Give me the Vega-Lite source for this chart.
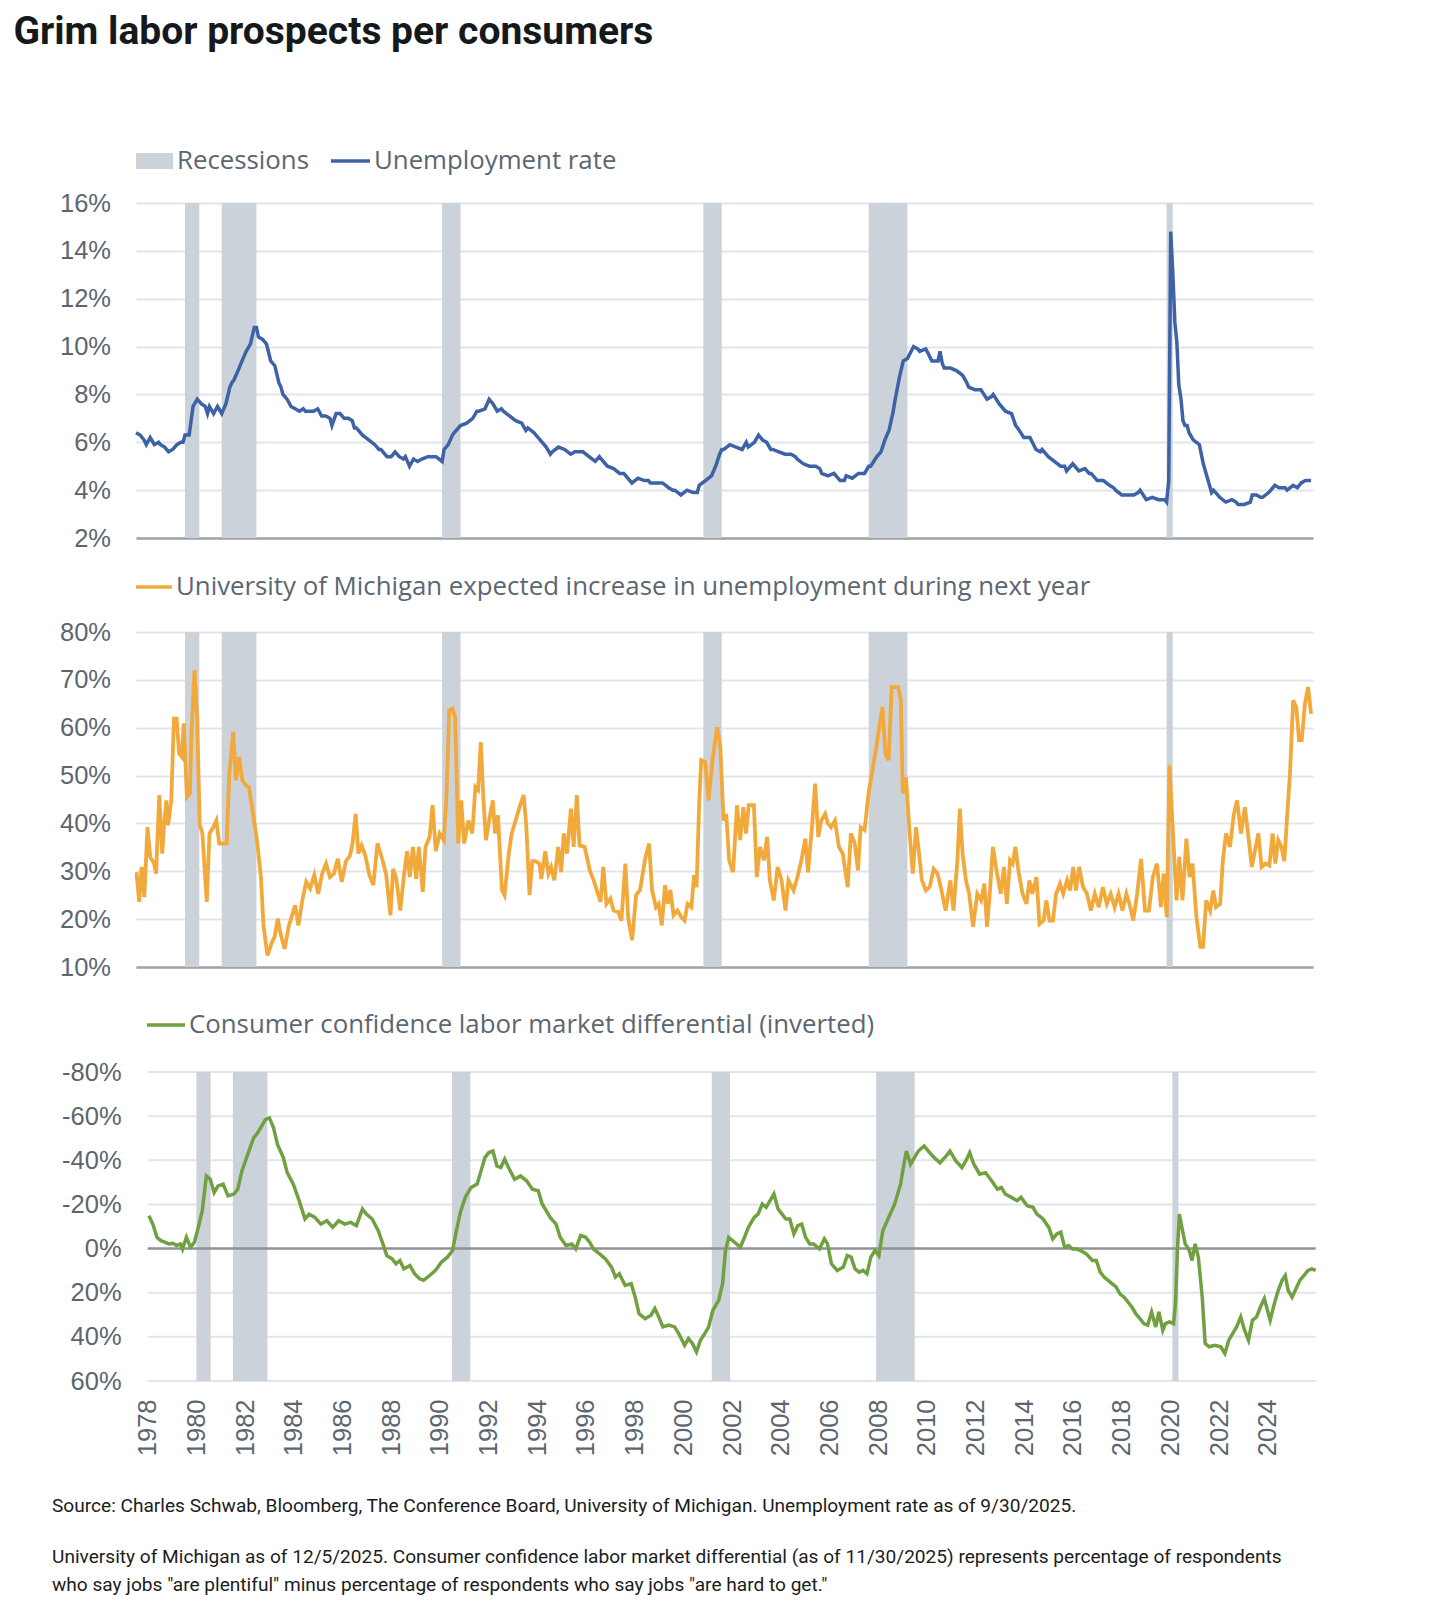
{
"$schema": "https://vega.github.io/schema/vega-lite/v6.json",
"background": "white",
"padding": {"left": 13, "top": 13, "right": 10, "bottom": 10},
"title": {"text": "Grim labor prospects per consumers", "anchor": "start", "frame": "bounds", "font": "Roboto", "fontSize": 39, "fontWeight": "bold", "color": "#16191c", "offset": 99},
"datasets": {
"rec": [{"s":1980.0,"e":1980.583},{"s":1981.5,"e":1982.917},{"s":1990.5,"e":1991.25},{"s":2001.167,"e":2001.917},{"s":2007.917,"e":2009.5},{"s":2020.083,"e":2020.333}],
"grid3": [{"g":-80},{"g":-60},{"g":-40},{"g":-20},{"g":20},{"g":40},{"g":60}],
"ur": [
{"t":1978.0,"v":6.4},{"t":1978.17,"v":6.3},{"t":1978.33,"v":6.1},{"t":1978.42,"v":5.9},{"t":1978.58,"v":6.2},{"t":1978.75,"v":5.9},{"t":1978.92,"v":6.0},
{"t":1979.0,"v":5.9},{"t":1979.17,"v":5.8},{"t":1979.33,"v":5.6},{"t":1979.5,"v":5.7},{"t":1979.67,"v":5.9},{"t":1979.83,"v":6.0},{"t":1979.92,"v":6.0},
{"t":1980.0,"v":6.3},{"t":1980.17,"v":6.3},{"t":1980.25,"v":6.9},{"t":1980.33,"v":7.5},{"t":1980.5,"v":7.8},{"t":1980.67,"v":7.6},{"t":1980.83,"v":7.5},{"t":1980.92,"v":7.2},
{"t":1981.0,"v":7.5},{"t":1981.17,"v":7.2},{"t":1981.33,"v":7.5},{"t":1981.5,"v":7.2},{"t":1981.67,"v":7.6},{"t":1981.83,"v":8.3},{"t":1981.92,"v":8.5},
{"t":1982.0,"v":8.6},{"t":1982.17,"v":9.0},{"t":1982.33,"v":9.4},{"t":1982.5,"v":9.8},{"t":1982.67,"v":10.1},{"t":1982.83,"v":10.8},{"t":1982.92,"v":10.8},
{"t":1983.0,"v":10.4},{"t":1983.17,"v":10.3},{"t":1983.33,"v":10.1},{"t":1983.5,"v":9.4},{"t":1983.67,"v":9.2},{"t":1983.83,"v":8.5},{"t":1983.92,"v":8.3},
{"t":1984.0,"v":8.0},{"t":1984.17,"v":7.8},{"t":1984.33,"v":7.5},{"t":1984.5,"v":7.4},{"t":1984.67,"v":7.3},{"t":1984.83,"v":7.4},{"t":1984.92,"v":7.3},
{"t":1985.0,"v":7.3},{"t":1985.25,"v":7.3},{"t":1985.42,"v":7.4},{"t":1985.58,"v":7.1},{"t":1985.75,"v":7.1},{"t":1985.92,"v":7.0},
{"t":1986.0,"v":6.7},{"t":1986.17,"v":7.2},{"t":1986.33,"v":7.2},{"t":1986.5,"v":7.0},{"t":1986.67,"v":7.0},{"t":1986.83,"v":6.9},{"t":1986.92,"v":6.6},
{"t":1987.0,"v":6.6},{"t":1987.25,"v":6.3},{"t":1987.5,"v":6.1},{"t":1987.75,"v":5.9},{"t":1987.92,"v":5.7},
{"t":1988.0,"v":5.7},{"t":1988.25,"v":5.4},{"t":1988.42,"v":5.4},{"t":1988.58,"v":5.6},{"t":1988.75,"v":5.4},{"t":1988.92,"v":5.3},
{"t":1989.0,"v":5.4},{"t":1989.17,"v":5.0},{"t":1989.33,"v":5.3},{"t":1989.5,"v":5.2},{"t":1989.67,"v":5.3},{"t":1989.92,"v":5.4},
{"t":1990.0,"v":5.4},{"t":1990.25,"v":5.4},{"t":1990.5,"v":5.2},{"t":1990.58,"v":5.7},{"t":1990.75,"v":5.9},{"t":1990.92,"v":6.3},
{"t":1991.0,"v":6.4},{"t":1991.25,"v":6.7},{"t":1991.5,"v":6.8},{"t":1991.75,"v":7.0},{"t":1991.92,"v":7.3},
{"t":1992.0,"v":7.3},{"t":1992.25,"v":7.4},{"t":1992.42,"v":7.8},{"t":1992.58,"v":7.6},{"t":1992.75,"v":7.3},{"t":1992.92,"v":7.4},
{"t":1993.0,"v":7.3},{"t":1993.25,"v":7.1},{"t":1993.5,"v":6.9},{"t":1993.75,"v":6.8},{"t":1993.92,"v":6.5},
{"t":1994.0,"v":6.6},{"t":1994.25,"v":6.4},{"t":1994.5,"v":6.1},{"t":1994.75,"v":5.8},{"t":1994.92,"v":5.5},
{"t":1995.0,"v":5.6},{"t":1995.25,"v":5.8},{"t":1995.5,"v":5.7},{"t":1995.75,"v":5.5},{"t":1995.92,"v":5.6},
{"t":1996.0,"v":5.6},{"t":1996.25,"v":5.6},{"t":1996.5,"v":5.4},{"t":1996.75,"v":5.2},{"t":1996.92,"v":5.4},
{"t":1997.0,"v":5.3},{"t":1997.25,"v":5.0},{"t":1997.5,"v":4.9},{"t":1997.75,"v":4.7},{"t":1997.92,"v":4.7},
{"t":1998.0,"v":4.6},{"t":1998.25,"v":4.3},{"t":1998.5,"v":4.5},{"t":1998.75,"v":4.4},{"t":1998.92,"v":4.4},
{"t":1999.0,"v":4.3},{"t":1999.25,"v":4.3},{"t":1999.5,"v":4.3},{"t":1999.75,"v":4.1},{"t":1999.92,"v":4.0},
{"t":2000.0,"v":4.0},{"t":2000.25,"v":3.8},{"t":2000.5,"v":4.0},{"t":2000.75,"v":3.9},{"t":2000.92,"v":3.9},
{"t":2001.0,"v":4.2},{"t":2001.25,"v":4.4},{"t":2001.5,"v":4.6},{"t":2001.67,"v":5.0},{"t":2001.83,"v":5.5},{"t":2001.92,"v":5.7},
{"t":2002.0,"v":5.7},{"t":2002.25,"v":5.9},{"t":2002.5,"v":5.8},{"t":2002.75,"v":5.7},{"t":2002.92,"v":6.0},
{"t":2003.0,"v":5.8},{"t":2003.25,"v":6.0},{"t":2003.42,"v":6.3},{"t":2003.58,"v":6.1},{"t":2003.75,"v":6.0},{"t":2003.92,"v":5.7},
{"t":2004.0,"v":5.7},{"t":2004.25,"v":5.6},{"t":2004.5,"v":5.5},{"t":2004.75,"v":5.5},{"t":2004.92,"v":5.4},
{"t":2005.0,"v":5.3},{"t":2005.25,"v":5.1},{"t":2005.5,"v":5.0},{"t":2005.75,"v":5.0},{"t":2005.92,"v":4.9},
{"t":2006.0,"v":4.7},{"t":2006.25,"v":4.6},{"t":2006.5,"v":4.7},{"t":2006.75,"v":4.4},{"t":2006.92,"v":4.4},
{"t":2007.0,"v":4.6},{"t":2007.25,"v":4.5},{"t":2007.5,"v":4.7},{"t":2007.75,"v":4.7},{"t":2007.92,"v":5.0},
{"t":2008.0,"v":5.0},{"t":2008.25,"v":5.4},{"t":2008.42,"v":5.6},{"t":2008.58,"v":6.1},{"t":2008.75,"v":6.5},{"t":2008.92,"v":7.3},
{"t":2009.0,"v":7.8},{"t":2009.17,"v":8.7},{"t":2009.33,"v":9.4},{"t":2009.5,"v":9.5},{"t":2009.75,"v":10.0},{"t":2009.92,"v":9.9},
{"t":2010.0,"v":9.8},{"t":2010.25,"v":9.9},{"t":2010.5,"v":9.4},{"t":2010.75,"v":9.4},{"t":2010.83,"v":9.8},{"t":2010.92,"v":9.3},
{"t":2011.0,"v":9.1},{"t":2011.25,"v":9.1},{"t":2011.5,"v":9.0},{"t":2011.75,"v":8.8},{"t":2011.92,"v":8.5},
{"t":2012.0,"v":8.3},{"t":2012.25,"v":8.2},{"t":2012.5,"v":8.2},{"t":2012.75,"v":7.8},{"t":2012.92,"v":7.9},
{"t":2013.0,"v":8.0},{"t":2013.25,"v":7.6},{"t":2013.5,"v":7.3},{"t":2013.75,"v":7.2},{"t":2013.92,"v":6.7},
{"t":2014.0,"v":6.6},{"t":2014.25,"v":6.2},{"t":2014.5,"v":6.2},{"t":2014.75,"v":5.7},{"t":2014.92,"v":5.6},
{"t":2015.0,"v":5.7},{"t":2015.25,"v":5.4},{"t":2015.5,"v":5.2},{"t":2015.75,"v":5.0},{"t":2015.92,"v":5.0},
{"t":2016.0,"v":4.8},{"t":2016.25,"v":5.1},{"t":2016.5,"v":4.8},{"t":2016.75,"v":4.9},{"t":2016.92,"v":4.7},
{"t":2017.0,"v":4.7},{"t":2017.25,"v":4.4},{"t":2017.5,"v":4.4},{"t":2017.75,"v":4.2},{"t":2017.92,"v":4.1},
{"t":2018.0,"v":4.0},{"t":2018.25,"v":3.8},{"t":2018.5,"v":3.8},{"t":2018.75,"v":3.8},{"t":2018.92,"v":3.9},
{"t":2019.0,"v":4.0},{"t":2019.25,"v":3.6},{"t":2019.5,"v":3.7},{"t":2019.75,"v":3.6},{"t":2019.92,"v":3.6},
{"t":2020.0,"v":3.6},{"t":2020.08,"v":3.5},{"t":2020.17,"v":4.4},{"t":2020.25,"v":14.8},{"t":2020.33,"v":13.2},{"t":2020.42,"v":11.0},{"t":2020.5,"v":10.2},{"t":2020.58,"v":8.4},{"t":2020.67,"v":7.8},{"t":2020.75,"v":6.9},{"t":2020.83,"v":6.7},{"t":2020.92,"v":6.7},
{"t":2021.0,"v":6.4},{"t":2021.17,"v":6.1},{"t":2021.42,"v":5.9},{"t":2021.58,"v":5.1},{"t":2021.75,"v":4.5},{"t":2021.92,"v":3.9},
{"t":2022.0,"v":4.0},{"t":2022.25,"v":3.7},{"t":2022.5,"v":3.5},{"t":2022.75,"v":3.6},{"t":2022.92,"v":3.5},
{"t":2023.0,"v":3.4},{"t":2023.25,"v":3.4},{"t":2023.5,"v":3.5},{"t":2023.58,"v":3.8},{"t":2023.75,"v":3.8},{"t":2023.92,"v":3.7},
{"t":2024.0,"v":3.7},{"t":2024.25,"v":3.9},{"t":2024.42,"v":4.1},{"t":2024.5,"v":4.2},{"t":2024.67,"v":4.1},{"t":2024.92,"v":4.1},
{"t":2025.0,"v":4.0},{"t":2025.25,"v":4.2},{"t":2025.42,"v":4.1},{"t":2025.58,"v":4.3},{"t":2025.75,"v":4.4},{"t":2025.98,"v":4.4}
],
"um": [
{"t":1978.02,"v":29.8},{"t":1978.13,"v":23.6},{"t":1978.23,"v":30.9},{"t":1978.34,"v":24.6},{"t":1978.47,"v":39.2},{"t":1978.58,"v":33},{"t":1978.74,"v":31.6},{"t":1978.82,"v":29.5},{"t":1978.95,"v":45.9},
{"t":1979.07,"v":33.7},{"t":1979.15,"v":39.9},{"t":1979.24,"v":44.8},{"t":1979.31,"v":39.6},{"t":1979.44,"v":44.8},{"t":1979.55,"v":61.9},{"t":1979.66,"v":61.9},{"t":1979.76,"v":54.6},{"t":1979.87,"v":53.9},{"t":1979.95,"v":60.9},
{"t":1980.08,"v":45.5},{"t":1980.2,"v":46.2},{"t":1980.27,"v":59.5},{"t":1980.39,"v":72},{"t":1980.5,"v":61.5},{"t":1980.6,"v":39.9},{"t":1980.71,"v":37.9},{"t":1980.89,"v":23.6},
{"t":1981.0,"v":37.9},{"t":1981.16,"v":39.2},{"t":1981.28,"v":40.6},{"t":1981.4,"v":35.8},{"t":1981.7,"v":35.8},{"t":1981.81,"v":50.4},{"t":1981.97,"v":59.1},
{"t":1982.08,"v":49},{"t":1982.21,"v":53.9},{"t":1982.34,"v":49},{"t":1982.5,"v":47.9},{"t":1982.61,"v":47.6},{"t":1982.78,"v":42},{"t":1982.94,"v":36.5},
{"t":1983.1,"v":28.8},{"t":1983.21,"v":18.4},{"t":1983.37,"v":12.4},{"t":1983.53,"v":14.9},{"t":1983.66,"v":16.3},{"t":1983.79,"v":20.1},{"t":1983.9,"v":17},
{"t":1984.07,"v":13.8},{"t":1984.23,"v":18.4},{"t":1984.39,"v":21.1},{"t":1984.5,"v":22.9},{"t":1984.63,"v":18.7},{"t":1984.79,"v":23.9},{"t":1984.95,"v":27.8},
{"t":1985.11,"v":26.4},{"t":1985.28,"v":29.2},{"t":1985.44,"v":25.3},{"t":1985.6,"v":29.5},{"t":1985.76,"v":31.6},{"t":1985.92,"v":28.8},
{"t":1986.08,"v":29.5},{"t":1986.24,"v":32.6},{"t":1986.4,"v":27.8},{"t":1986.57,"v":32.1},{"t":1986.73,"v":33.2},{"t":1986.84,"v":35.7},{"t":1986.97,"v":42},
{"t":1987.08,"v":33.7},{"t":1987.21,"v":35.4},{"t":1987.37,"v":33.2},{"t":1987.53,"v":29.2},{"t":1987.69,"v":27.1},{"t":1987.86,"v":35.8},
{"t":1988.05,"v":32.6},{"t":1988.21,"v":29.5},{"t":1988.39,"v":20.8},{"t":1988.5,"v":30.5},{"t":1988.63,"v":28.4},{"t":1988.79,"v":21.8},{"t":1988.95,"v":29.5},
{"t":1989.07,"v":34.2},{"t":1989.18,"v":28.8},{"t":1989.31,"v":35.1},{"t":1989.44,"v":28.4},{"t":1989.55,"v":35.1},{"t":1989.71,"v":25.7},{"t":1989.82,"v":35.1},{"t":1989.99,"v":37.2},
{"t":1990.11,"v":43.8},{"t":1990.24,"v":34.2},{"t":1990.4,"v":37.9},{"t":1990.57,"v":36.5},{"t":1990.68,"v":45.9},{"t":1990.79,"v":63.6},{"t":1990.92,"v":64},
{"t":1991.03,"v":62.2},{"t":1991.16,"v":35.8},{"t":1991.28,"v":44.8},{"t":1991.4,"v":35.8},{"t":1991.57,"v":40.6},{"t":1991.73,"v":37.9},{"t":1991.86,"v":47.6},{"t":1991.97,"v":47},
{"t":1992.08,"v":57},{"t":1992.18,"v":45.5},{"t":1992.29,"v":36.5},{"t":1992.45,"v":41.5},{"t":1992.57,"v":44.8},{"t":1992.66,"v":37.9},{"t":1992.78,"v":41.7},{"t":1992.94,"v":26.1},
{"t":1993.05,"v":25},{"t":1993.21,"v":33.2},{"t":1993.34,"v":37.9},{"t":1993.5,"v":40.6},{"t":1993.66,"v":43.4},{"t":1993.83,"v":45.9},{"t":1993.94,"v":39.2},
{"t":1994.07,"v":25},{"t":1994.18,"v":32.1},{"t":1994.31,"v":32.1},{"t":1994.47,"v":31.6},{"t":1994.55,"v":28.4},{"t":1994.71,"v":34.2},{"t":1994.84,"v":29.5},{"t":1994.95,"v":30.9},
{"t":1995.08,"v":28.1},{"t":1995.24,"v":35.1},{"t":1995.36,"v":29.8},{"t":1995.47,"v":37.9},{"t":1995.6,"v":33.7},{"t":1995.76,"v":43.1},{"t":1995.87,"v":35.1},
{"t":1996.0,"v":45.9},{"t":1996.11,"v":35.4},{"t":1996.32,"v":35.1},{"t":1996.53,"v":30.2},{"t":1996.69,"v":28.1},{"t":1996.86,"v":25.3},{"t":1996.97,"v":23.6},
{"t":1997.08,"v":30.9},{"t":1997.21,"v":23.2},{"t":1997.37,"v":24.3},{"t":1997.5,"v":21.8},{"t":1997.69,"v":21.5},{"t":1997.82,"v":19.7},{"t":1997.98,"v":31.6},
{"t":1998.1,"v":20.1},{"t":1998.26,"v":15.6},{"t":1998.42,"v":25},{"t":1998.58,"v":26.1},{"t":1998.79,"v":32.6},{"t":1998.95,"v":35.8},
{"t":1999.07,"v":26.1},{"t":1999.23,"v":22.5},{"t":1999.34,"v":23.2},{"t":1999.47,"v":18.7},{"t":1999.6,"v":27.1},{"t":1999.71,"v":23.2},{"t":1999.82,"v":26.1},{"t":1999.95,"v":20.8},
{"t":2000.11,"v":21.8},{"t":2000.27,"v":20.4},{"t":2000.4,"v":19.7},{"t":2000.52,"v":23.2},{"t":2000.68,"v":22.5},{"t":2000.79,"v":29.2},{"t":2000.89,"v":26.7},
{"t":2001.0,"v":44.8},{"t":2001.08,"v":53.2},{"t":2001.24,"v":52.8},{"t":2001.38,"v":44.8},{"t":2001.54,"v":53.2},{"t":2001.73,"v":60.1},{"t":2001.86,"v":56},{"t":2001.99,"v":40.6},
{"t":2002.1,"v":42},{"t":2002.22,"v":32.3},{"t":2002.38,"v":29.8},{"t":2002.54,"v":43.8},{"t":2002.67,"v":36.5},{"t":2002.8,"v":43.4},{"t":2002.91,"v":37.9},
{"t":2003.02,"v":43.8},{"t":2003.23,"v":43.8},{"t":2003.35,"v":28.8},{"t":2003.48,"v":35.1},{"t":2003.64,"v":32.3},{"t":2003.77,"v":37.2},{"t":2003.88,"v":28.1},
{"t":2004.04,"v":23.9},{"t":2004.2,"v":30.9},{"t":2004.36,"v":28.1},{"t":2004.52,"v":21.8},{"t":2004.64,"v":28.1},{"t":2004.85,"v":26},
{"t":2005.01,"v":28.8},{"t":2005.17,"v":32.3},{"t":2005.33,"v":36.8},{"t":2005.44,"v":29.8},{"t":2005.6,"v":39.2},{"t":2005.73,"v":48.3},{"t":2005.86,"v":37.2},{"t":2005.98,"v":40.6},
{"t":2006.14,"v":42},{"t":2006.25,"v":40},{"t":2006.38,"v":39.2},{"t":2006.54,"v":40.6},{"t":2006.7,"v":35.1},{"t":2006.86,"v":33.7},
{"t":2007.06,"v":26.7},{"t":2007.19,"v":37.9},{"t":2007.35,"v":35.8},{"t":2007.48,"v":30.2},{"t":2007.59,"v":39.2},{"t":2007.75,"v":38.6},{"t":2007.91,"v":46.2},
{"t":2008.07,"v":51.1},{"t":2008.23,"v":56},{"t":2008.35,"v":60.1},{"t":2008.48,"v":64.3},{"t":2008.6,"v":54.6},{"t":2008.73,"v":53.2},{"t":2008.86,"v":68.5},{"t":2008.99,"v":68.5},
{"t":2009.12,"v":68.5},{"t":2009.23,"v":65.7},{"t":2009.31,"v":46.2},{"t":2009.44,"v":49.7},{"t":2009.6,"v":37.2},{"t":2009.72,"v":29.5},{"t":2009.85,"v":39.2},{"t":2009.96,"v":34.4},
{"t":2010.09,"v":28.1},{"t":2010.25,"v":26},{"t":2010.41,"v":26.7},{"t":2010.57,"v":30.5},{"t":2010.73,"v":29.5},{"t":2010.89,"v":26},
{"t":2011.06,"v":21.8},{"t":2011.25,"v":28.1},{"t":2011.38,"v":21.8},{"t":2011.54,"v":32.3},{"t":2011.64,"v":43.1},{"t":2011.75,"v":33.7},{"t":2011.89,"v":28.1},
{"t":2012.02,"v":25.3},{"t":2012.18,"v":18.4},{"t":2012.35,"v":25.3},{"t":2012.51,"v":23.9},{"t":2012.64,"v":27.4},{"t":2012.75,"v":18.4},{"t":2012.86,"v":25.3},{"t":2012.99,"v":35.1},
{"t":2013.15,"v":29.8},{"t":2013.31,"v":25.3},{"t":2013.44,"v":30.9},{"t":2013.56,"v":23.2},{"t":2013.69,"v":32.3},{"t":2013.8,"v":31.6},{"t":2013.91,"v":35.1},
{"t":2014.04,"v":29.8},{"t":2014.2,"v":25.3},{"t":2014.36,"v":23.2},{"t":2014.48,"v":28.1},{"t":2014.6,"v":25.3},{"t":2014.77,"v":28.8},{"t":2014.89,"v":19},
{"t":2015.06,"v":19.7},{"t":2015.17,"v":23.9},{"t":2015.3,"v":19.7},{"t":2015.44,"v":19.7},{"t":2015.57,"v":25.3},{"t":2015.73,"v":27.4},{"t":2015.86,"v":25.3},
{"t":2016.02,"v":28.1},{"t":2016.14,"v":26},{"t":2016.27,"v":30.9},{"t":2016.38,"v":26},{"t":2016.51,"v":30.9},{"t":2016.67,"v":26.7},{"t":2016.83,"v":25.3},{"t":2016.99,"v":21.8},
{"t":2017.15,"v":25.3},{"t":2017.31,"v":22.5},{"t":2017.48,"v":26.7},{"t":2017.64,"v":23.2},{"t":2017.8,"v":25.3},{"t":2017.96,"v":22.5},
{"t":2018.12,"v":25.3},{"t":2018.28,"v":21.8},{"t":2018.44,"v":25.3},{"t":2018.6,"v":22.5},{"t":2018.72,"v":19.7},{"t":2018.88,"v":25.3},
{"t":2019.04,"v":32.6},{"t":2019.2,"v":21.8},{"t":2019.36,"v":21.8},{"t":2019.52,"v":28.8},{"t":2019.69,"v":31.6},{"t":2019.85,"v":22.5},{"t":2019.96,"v":29.5},
{"t":2020.09,"v":20.4},{"t":2020.2,"v":52.1},{"t":2020.33,"v":39.2},{"t":2020.49,"v":23.9},{"t":2020.6,"v":33},{"t":2020.73,"v":23.9},{"t":2020.89,"v":36.8},
{"t":2021.02,"v":28.8},{"t":2021.14,"v":31.6},{"t":2021.3,"v":20.4},{"t":2021.46,"v":14.2},{"t":2021.57,"v":14.2},{"t":2021.7,"v":23.9},{"t":2021.86,"v":21.8},{"t":2021.99,"v":26},
{"t":2022.1,"v":22.5},{"t":2022.27,"v":23.2},{"t":2022.38,"v":32.3},{"t":2022.51,"v":37.9},{"t":2022.67,"v":35.1},{"t":2022.83,"v":42},{"t":2022.96,"v":44.8},
{"t":2023.12,"v":37.9},{"t":2023.28,"v":43.4},{"t":2023.44,"v":36.5},{"t":2023.56,"v":30.9},{"t":2023.72,"v":35.1},{"t":2023.83,"v":37.9},{"t":2023.96,"v":30.9},
{"t":2024.12,"v":31.6},{"t":2024.28,"v":31.2},{"t":2024.41,"v":37.9},{"t":2024.52,"v":31.6},{"t":2024.64,"v":36.5},{"t":2024.77,"v":35.1},{"t":2024.89,"v":32.1},
{"t":2025.01,"v":42},{"t":2025.12,"v":50.4},{"t":2025.25,"v":65.7},{"t":2025.38,"v":64.3},{"t":2025.49,"v":57.4},{"t":2025.6,"v":57.4},{"t":2025.73,"v":65},{"t":2025.86,"v":68.5},{"t":2025.98,"v":62.9}
],
"cc": [
{"t":1978.05,"v":-14.9},{"t":1978.21,"v":-11.1},{"t":1978.38,"v":-5.1},{"t":1978.54,"v":-3.6},{"t":1978.7,"v":-2.9},{"t":1978.86,"v":-2.1},
{"t":1979.03,"v":-2.4},{"t":1979.19,"v":-1.4},{"t":1979.35,"v":-2.1},{"t":1979.43,"v":0.2},{"t":1979.59,"v":-5.1},{"t":1979.76,"v":-0.6},{"t":1979.92,"v":-2.9},
{"t":1980.08,"v":-9.6},{"t":1980.24,"v":-17.1},{"t":1980.41,"v":-32.9},{"t":1980.57,"v":-31.4},{"t":1980.73,"v":-25.4},{"t":1980.89,"v":-28.4},
{"t":1981.1,"v":-29.2},{"t":1981.3,"v":-23.9},{"t":1981.54,"v":-24.7},{"t":1981.7,"v":-26.9},{"t":1981.87,"v":-35.2},
{"t":1982.11,"v":-42.7},{"t":1982.35,"v":-50.2},{"t":1982.52,"v":-52.5},{"t":1982.68,"v":-55.5},{"t":1982.84,"v":-58.5},
{"t":1983.0,"v":-59.2},{"t":1983.17,"v":-54.7},{"t":1983.33,"v":-47.2},{"t":1983.57,"v":-41.2},{"t":1983.73,"v":-34.4},{"t":1983.98,"v":-29.2},
{"t":1984.22,"v":-21.7},{"t":1984.46,"v":-13.4},{"t":1984.63,"v":-15.6},{"t":1984.87,"v":-14.1},
{"t":1985.11,"v":-11.1},{"t":1985.36,"v":-12.6},{"t":1985.6,"v":-9.6},{"t":1985.84,"v":-12.6},
{"t":1986.09,"v":-11.1},{"t":1986.33,"v":-11.9},{"t":1986.57,"v":-10.4},{"t":1986.82,"v":-17.9},{"t":1986.98,"v":-15.6},
{"t":1987.22,"v":-13.4},{"t":1987.47,"v":-8.1},{"t":1987.66,"v":-2.1},{"t":1987.82,"v":3.2},
{"t":1988.04,"v":4.7},{"t":1988.2,"v":6.9},{"t":1988.36,"v":5.4},{"t":1988.52,"v":9.2},{"t":1988.77,"v":7.7},{"t":1988.96,"v":11.4},
{"t":1989.17,"v":13.7},{"t":1989.33,"v":14.4},{"t":1989.58,"v":12.2},{"t":1989.82,"v":9.9},
{"t":1990.06,"v":6.2},{"t":1990.31,"v":3.9},{"t":1990.52,"v":0.9},{"t":1990.68,"v":-8.1},{"t":1990.84,"v":-16.4},
{"t":1991.04,"v":-23.2},{"t":1991.28,"v":-27.7},{"t":1991.53,"v":-29.2},{"t":1991.69,"v":-35.2},{"t":1991.85,"v":-41.2},
{"t":1992.01,"v":-43.5},{"t":1992.18,"v":-44.2},{"t":1992.34,"v":-37.4},{"t":1992.5,"v":-36.7},{"t":1992.66,"v":-40.5},{"t":1992.82,"v":-36.7},
{"t":1993.07,"v":-31.4},{"t":1993.31,"v":-32.9},{"t":1993.56,"v":-30.7},{"t":1993.8,"v":-26.9},
{"t":1994.04,"v":-26.2},{"t":1994.2,"v":-20.2},{"t":1994.37,"v":-17.1},{"t":1994.53,"v":-14.1},{"t":1994.77,"v":-11.1},{"t":1994.94,"v":-5.1},
{"t":1995.18,"v":-1.4},{"t":1995.42,"v":-2.1},{"t":1995.58,"v":0.2},{"t":1995.78,"v":-5.9},{"t":1995.99,"v":-5.1},
{"t":1996.15,"v":-2.9},{"t":1996.31,"v":0.2},{"t":1996.56,"v":2.4},{"t":1996.8,"v":4.7},
{"t":1997.05,"v":8.4},{"t":1997.21,"v":12.9},{"t":1997.37,"v":11.4},{"t":1997.61,"v":16.7},{"t":1997.86,"v":15.9},
{"t":1998.02,"v":22},{"t":1998.18,"v":29.5},{"t":1998.43,"v":31.7},{"t":1998.67,"v":30.2},{"t":1998.83,"v":27.2},{"t":1998.99,"v":31},
{"t":1999.16,"v":35.5},{"t":1999.4,"v":34.7},{"t":1999.64,"v":35.5},{"t":1999.81,"v":38.5},
{"t":2000.05,"v":43.8},{"t":2000.21,"v":40.8},{"t":2000.37,"v":43},{"t":2000.54,"v":46.8},{"t":2000.7,"v":41.5},{"t":2000.88,"v":38.5},
{"t":2001.04,"v":35.5},{"t":2001.21,"v":28},{"t":2001.45,"v":23.5},{"t":2001.61,"v":15.9},{"t":2001.73,"v":0.9},{"t":2001.86,"v":-5.1},
{"t":2002.02,"v":-3.6},{"t":2002.18,"v":-2.1},{"t":2002.34,"v":-0.6},{"t":2002.51,"v":-5.1},{"t":2002.67,"v":-9.6},{"t":2002.91,"v":-14.1},
{"t":2003.07,"v":-15.6},{"t":2003.24,"v":-20.2},{"t":2003.4,"v":-18.7},{"t":2003.56,"v":-21.7},{"t":2003.72,"v":-24.7},{"t":2003.89,"v":-17.9},
{"t":2004.05,"v":-15.6},{"t":2004.21,"v":-13.4},{"t":2004.37,"v":-13.4},{"t":2004.54,"v":-6.6},{"t":2004.7,"v":-10.4},{"t":2004.86,"v":-11.1},
{"t":2005.02,"v":-5.1},{"t":2005.19,"v":-2.1},{"t":2005.35,"v":-2.1},{"t":2005.59,"v":0.2},{"t":2005.79,"v":-4.4},{"t":2005.92,"v":-2.1},
{"t":2006.08,"v":6.9},{"t":2006.32,"v":9.9},{"t":2006.57,"v":8.4},{"t":2006.73,"v":3.2},{"t":2006.89,"v":3.9},
{"t":2007.05,"v":9.2},{"t":2007.22,"v":10.7},{"t":2007.38,"v":9.9},{"t":2007.54,"v":11.4},{"t":2007.7,"v":3.9},{"t":2007.87,"v":0.9},
{"t":2008.03,"v":3.2},{"t":2008.19,"v":-8.1},{"t":2008.43,"v":-14.1},{"t":2008.68,"v":-20.2},{"t":2008.92,"v":-29.2},
{"t":2009.08,"v":-39.7},{"t":2009.16,"v":-44.2},{"t":2009.33,"v":-38.2},{"t":2009.49,"v":-41.2},{"t":2009.65,"v":-44.2},{"t":2009.89,"v":-46.5},
{"t":2010.06,"v":-44.2},{"t":2010.3,"v":-41.2},{"t":2010.54,"v":-38.9},{"t":2010.79,"v":-41.9},{"t":2010.95,"v":-44.2},
{"t":2011.19,"v":-39.7},{"t":2011.44,"v":-36.7},{"t":2011.6,"v":-39.7},{"t":2011.76,"v":-43.5},{"t":2011.93,"v":-38.2},
{"t":2012.17,"v":-33.7},{"t":2012.41,"v":-34.4},{"t":2012.66,"v":-30.7},{"t":2012.9,"v":-26.9},
{"t":2013.06,"v":-27.7},{"t":2013.22,"v":-24.7},{"t":2013.47,"v":-23.2},{"t":2013.71,"v":-21.7},{"t":2013.87,"v":-23.2},
{"t":2014.12,"v":-19.4},{"t":2014.36,"v":-18.7},{"t":2014.52,"v":-15.6},{"t":2014.77,"v":-13.4},
{"t":2015.01,"v":-9.6},{"t":2015.17,"v":-4.4},{"t":2015.34,"v":-6.6},{"t":2015.5,"v":-7.4},{"t":2015.66,"v":-0.6},{"t":2015.82,"v":-1.4},{"t":2015.98,"v":0.2},
{"t":2016.15,"v":0.2},{"t":2016.31,"v":0.9},{"t":2016.55,"v":2.4},{"t":2016.8,"v":5.4},{"t":2016.96,"v":5.4},
{"t":2017.12,"v":10.7},{"t":2017.28,"v":12.9},{"t":2017.53,"v":15.2},{"t":2017.77,"v":17.4},{"t":2017.93,"v":20.5},
{"t":2018.1,"v":22},{"t":2018.26,"v":24.2},{"t":2018.42,"v":26.5},{"t":2018.58,"v":29.5},{"t":2018.75,"v":31.7},{"t":2018.91,"v":34},
{"t":2019.07,"v":34.7},{"t":2019.23,"v":28.7},{"t":2019.4,"v":35.5},{"t":2019.53,"v":28.7},{"t":2019.69,"v":37},{"t":2019.8,"v":34},{"t":2019.96,"v":33.2},
{"t":2020.13,"v":34},{"t":2020.21,"v":25},{"t":2020.29,"v":0.9},{"t":2020.37,"v":-15.6},{"t":2020.5,"v":-8.1},{"t":2020.61,"v":-2.1},{"t":2020.78,"v":0.9},{"t":2020.89,"v":5.4},
{"t":2021.02,"v":-2.1},{"t":2021.15,"v":3.9},{"t":2021.31,"v":22},{"t":2021.43,"v":43},{"t":2021.59,"v":44.5},{"t":2021.83,"v":43.8},
{"t":2022.07,"v":44.5},{"t":2022.24,"v":47.5},{"t":2022.4,"v":41.5},{"t":2022.56,"v":38.5},{"t":2022.72,"v":35.5},{"t":2022.89,"v":31},
{"t":2023.05,"v":37},{"t":2023.21,"v":41.5},{"t":2023.37,"v":32.5},{"t":2023.54,"v":31},{"t":2023.7,"v":26.5},{"t":2023.86,"v":22.7},
{"t":2024.1,"v":32.5},{"t":2024.27,"v":25},{"t":2024.43,"v":19},{"t":2024.59,"v":14.4},{"t":2024.72,"v":12.2},{"t":2024.84,"v":19},
{"t":2025.0,"v":22},{"t":2025.16,"v":18.2},{"t":2025.32,"v":14.4},{"t":2025.49,"v":12.2},{"t":2025.65,"v":9.9},{"t":2025.81,"v":9.2},{"t":2025.97,"v":9.9}
]
},
"columns": 1,
"spacing": 25,
"resolve": {"scale": {"x": "independent", "y": "independent", "fill": "independent", "stroke": "independent"}, "legend": {"fill": "independent", "stroke": "independent"}, "axis": {"x": "independent", "y": "independent"}},
"concat": [
{
"width": 1177, "height": 335,
"layer": [
{"data": {"name": "rec"}, "mark": {"type": "rect"},
 "encoding": {
  "x": {"field": "s", "type": "quantitative", "scale": {"domain": [1978, 2026.06], "nice": false, "zero": false}, "axis": {"labels": false, "ticks": false, "grid": false, "domain": true, "domainColor": "#a0a4a8", "domainWidth": 2.5, "title": null, "minExtent": 1.5, "maxExtent": 1.5}},
  "x2": {"field": "e"},
  "fill": {"datum": "Recessions", "type": "nominal", "scale": {"range": ["#cbd2da"]}, "legend": {"orient": "top", "offset": 28.8, "labelOffset": 4, "symbolType": "M-1,-0.43H1V0.43H-1Z", "symbolSize": 1369, "symbolStrokeWidth": 0}}
 }},
{"data": {"name": "ur"}, "mark": {"type": "line", "strokeWidth": 3.5},
 "encoding": {
  "x": {"field": "t", "type": "quantitative", "scale": {"domain": [1978, 2026.06], "nice": false, "zero": false}, "axis": {"labels": false, "ticks": false, "grid": false, "domain": true, "domainColor": "#a0a4a8", "domainWidth": 2.5, "title": null, "minExtent": 1.5, "maxExtent": 1.5}},
  "y": {"field": "v", "type": "quantitative", "scale": {"domain": [2, 16], "nice": false, "zero": false}, "axis": {"values": [2, 4, 6, 8, 10, 12, 14, 16], "labelExpr": "datum.value + '%'", "grid": true, "labelPadding": 25.5, "minExtent": 122.6, "maxExtent": 122.6, "title": null}},
  "stroke": {"datum": "Unemployment rate", "type": "nominal", "scale": {"range": ["#3e62a6"]}, "legend": {"orient": "top", "offset": 28.8, "symbolType": "stroke", "symbolSize": 1521, "symbolStrokeWidth": 3.5}}
 }}
]
},
{
"width": 1177, "height": 335,
"layer": [
{"data": {"name": "rec"}, "mark": {"type": "rect", "color": "#cbd2da"},
 "encoding": {
  "x": {"field": "s", "type": "quantitative", "scale": {"domain": [1978, 2026.06], "nice": false, "zero": false}, "axis": {"labels": false, "ticks": false, "grid": false, "domain": true, "domainColor": "#a0a4a8", "domainWidth": 2.5, "title": null, "minExtent": 13.2, "maxExtent": 13.2}},
  "x2": {"field": "e"}
 }},
{"data": {"name": "um"}, "mark": {"type": "line", "strokeWidth": 3.8},
 "encoding": {
  "x": {"field": "t", "type": "quantitative", "scale": {"domain": [1978, 2026.06], "nice": false, "zero": false}, "axis": {"labels": false, "ticks": false, "grid": false, "domain": true, "domainColor": "#a0a4a8", "domainWidth": 2.5, "title": null, "minExtent": 13.2, "maxExtent": 13.2}},
  "y": {"field": "v", "type": "quantitative", "scale": {"domain": [10, 80], "nice": false, "zero": false}, "axis": {"values": [10, 20, 30, 40, 50, 60, 70, 80], "labelExpr": "datum.value + '%'", "grid": true, "labelPadding": 25.5, "minExtent": 122.6, "maxExtent": 122.6, "title": null}},
  "stroke": {"datum": "University of Michigan expected increase in unemployment during next year", "type": "nominal", "scale": {"range": ["#f2a93b"]}, "legend": {"orient": "top", "offset": 31.8, "symbolOffset": -3, "symbolType": "stroke", "symbolSize": 1369, "symbolStrokeWidth": 3.5}}
 }}
]
},
{
"width": 1179.7, "height": 309,
"title": {"text": "Source: Charles Schwab, Bloomberg, The Conference Board, University of Michigan. Unemployment rate as of 9/30/2025.", "subtitle": ["University of Michigan as of 12/5/2025. Consumer confidence labor market differential (as of 11/30/2025) represents percentage of respondents", "who say jobs \"are plentiful\" minus percentage of respondents who say jobs \"are hard to get.\""], "orient": "bottom", "anchor": "start", "frame": "bounds", "font": "Roboto", "fontSize": 19.1, "fontWeight": "normal", "color": "#1c1c1c", "subtitleFont": "Roboto", "subtitleFontSize": 19.1, "subtitleFontWeight": "normal", "subtitleColor": "#1c1c1c", "subtitleLineHeight": 27.5, "subtitlePadding": 32.6, "offset": 40.8, "dx": 38.6},
"layer": [
{"data": {"name": "grid3"}, "mark": {"type": "rule", "color": "#e3e5e8", "strokeWidth": 2},
 "encoding": {
  "y": {"field": "g", "type": "quantitative"},
  "x": {"datum": 1978, "type": "quantitative"},
  "x2": {"datum": 2025.97}
 }},
{"data": {"name": "rec"}, "mark": {"type": "rect", "color": "#cbd2da"},
 "encoding": {
  "x": {"field": "s", "type": "quantitative", "scale": {"domain": [1977.52, 2025.97], "nice": false, "zero": false}, "axis": {"values": [1978,1980,1982,1984,1986,1988,1990,1992,1994,1996,1998,2000,2002,2004,2006,2008,2010,2012,2014,2016,2018,2020,2022,2024], "format": "d", "labelAngle": -90, "labelPadding": 18, "grid": false, "domain": false, "title": null}},
  "x2": {"field": "e"}
 }},
{"data": {"values": [{}]}, "mark": {"type": "rule", "color": "#8e9297", "strokeWidth": 2.5},
 "encoding": {"y": {"datum": 0, "type": "quantitative"}, "x": {"datum": 1978, "type": "quantitative"}, "x2": {"datum": 2025.97}}},
{"data": {"name": "cc"}, "mark": {"type": "line", "strokeWidth": 3.5},
 "encoding": {
  "x": {"field": "t", "type": "quantitative", "scale": {"domain": [1977.52, 2025.97], "nice": false, "zero": false}, "axis": {"values": [1978,1980,1982,1984,1986,1988,1990,1992,1994,1996,1998,2000,2002,2004,2006,2008,2010,2012,2014,2016,2018,2020,2022,2024], "format": "d", "labelAngle": -90, "labelPadding": 18, "grid": false, "domain": false, "title": null}},
  "y": {"field": "v", "type": "quantitative", "scale": {"domain": [-80, 60], "nice": false, "zero": false, "reverse": true}, "axis": {"values": [-80, -60, -40, -20, 0, 20, 40, 60], "labelExpr": "datum.value + '%'", "grid": false, "labelPadding": 14.9, "minExtent": 122.6, "maxExtent": 122.6, "title": null}},
  "stroke": {"datum": "Consumer confidence labor market differential (inverted)", "type": "nominal", "scale": {"range": ["#71a040"]}, "legend": {"orient": "top", "offset": 25.5, "padding": 9, "symbolType": "stroke", "symbolSize": 1444, "symbolStrokeWidth": 3.5}}
 }}
]
}
],
"config": {
 "view": {"stroke": null},
 "axis": {"labelFont": "Liberation Sans", "labelFontSize": 25.5, "labelColor": "#5c6670", "gridColor": "#e3e5e8", "gridWidth": 2, "ticks": false, "domain": false},
 "legend": {"labelFont": "Open Sans", "labelFontSize": 25.8, "labelColor": "#5b6673", "title": null, "labelLimit": 1300, "clipHeight": 20, "labelOffset": 2, "layout": {"margin": 20}}
}
}
